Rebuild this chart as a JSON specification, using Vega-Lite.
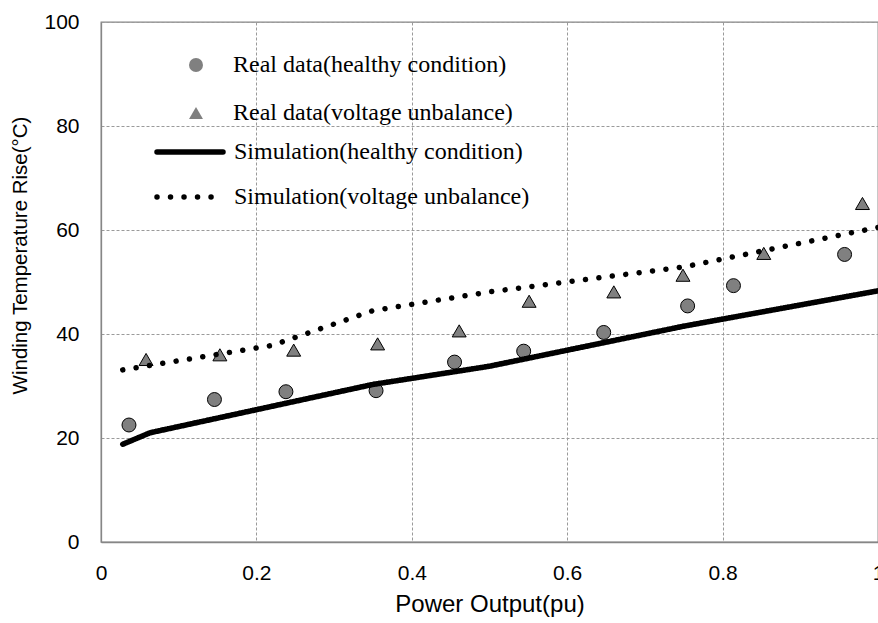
{
  "$schema": "https://vega.github.io/schema/vega-lite/v6.json",
  "width": 777,
  "height": 520,
  "autosize": {"type": "none"},
  "padding": {"left": 101, "top": 22, "right": 0, "bottom": 81},
  "background": "white",
  "config": {
    "view": {"stroke": "#868686", "strokeWidth": 1.3},
    "axis": {
      "grid": true,
      "gridDash": [3, 2],
      "gridColor": "#9a9a9a",
      "gridWidth": 1,
      "ticks": false,
      "tickSize": 0,
      "domainColor": "#868686",
      "domainWidth": 1.3,
      "labelFont": "Liberation Sans",
      "labelFontSize": 21,
      "labelColor": "#000000",
      "labelFlush": false,
      "labelOverlap": false,
      "titleFont": "Liberation Sans",
      "titleFontWeight": "normal",
      "titleColor": "#000000"
    }
  },
  "datasets": {
    "real": [
      {"series": "Real data(healthy condition)", "power": 0.036, "temp": 22.5},
      {"series": "Real data(healthy condition)", "power": 0.146, "temp": 27.4},
      {"series": "Real data(healthy condition)", "power": 0.238, "temp": 28.9},
      {"series": "Real data(healthy condition)", "power": 0.354, "temp": 29.1},
      {"series": "Real data(healthy condition)", "power": 0.455, "temp": 34.6},
      {"series": "Real data(healthy condition)", "power": 0.544, "temp": 36.7},
      {"series": "Real data(healthy condition)", "power": 0.647, "temp": 40.3},
      {"series": "Real data(healthy condition)", "power": 0.755, "temp": 45.4},
      {"series": "Real data(healthy condition)", "power": 0.814, "temp": 49.3},
      {"series": "Real data(healthy condition)", "power": 0.957, "temp": 55.3},
      {"series": "Real data(voltage unbalance)", "power": 0.058, "temp": 35.1},
      {"series": "Real data(voltage unbalance)", "power": 0.153, "temp": 36.0},
      {"series": "Real data(voltage unbalance)", "power": 0.248, "temp": 36.9},
      {"series": "Real data(voltage unbalance)", "power": 0.356, "temp": 38.1},
      {"series": "Real data(voltage unbalance)", "power": 0.461, "temp": 40.6},
      {"series": "Real data(voltage unbalance)", "power": 0.551, "temp": 46.3},
      {"series": "Real data(voltage unbalance)", "power": 0.660, "temp": 48.1},
      {"series": "Real data(voltage unbalance)", "power": 0.749, "temp": 51.3},
      {"series": "Real data(voltage unbalance)", "power": 0.853, "temp": 55.5},
      {"series": "Real data(voltage unbalance)", "power": 0.980, "temp": 65.1}
    ],
    "sim": [
      {"series": "Simulation(healthy condition)", "power": 0.028, "temp": 18.8},
      {"series": "Simulation(healthy condition)", "power": 0.063, "temp": 21.0},
      {"series": "Simulation(healthy condition)", "power": 0.35, "temp": 30.3},
      {"series": "Simulation(healthy condition)", "power": 0.5, "temp": 33.8},
      {"series": "Simulation(healthy condition)", "power": 0.75, "temp": 41.5},
      {"series": "Simulation(healthy condition)", "power": 1.0, "temp": 48.3},
      {"series": "Simulation(voltage unbalance)", "power": 0.028, "temp": 33.1},
      {"series": "Simulation(voltage unbalance)", "power": 0.22, "temp": 37.8},
      {"series": "Simulation(voltage unbalance)", "power": 0.35, "temp": 44.5},
      {"series": "Simulation(voltage unbalance)", "power": 0.5, "temp": 48.1},
      {"series": "Simulation(voltage unbalance)", "power": 0.75, "temp": 52.9},
      {"series": "Simulation(voltage unbalance)", "power": 1.0, "temp": 60.5}
    ]
  },
  "encoding": {
    "x": {
      "field": "power",
      "type": "quantitative",
      "scale": {"domain": [0, 1], "nice": false},
      "axis": {
        "title": "Power Output(pu)",
        "values": [0, 0.2, 0.4, 0.6, 0.8, 1],
        "format": "~g",
        "labelPadding": 20,
        "titleFontSize": 24,
        "titleX": 388.5,
        "titleY": 62,
        "titleAlign": "center",
        "titleBaseline": "middle"
      }
    },
    "y": {
      "field": "temp",
      "type": "quantitative",
      "scale": {"domain": [0, 100], "nice": false},
      "axis": {
        "title": "Winding Temperature Rise(°C)",
        "values": [0, 20, 40, 60, 80, 100],
        "labelPadding": 22,
        "titleFontSize": 20.5,
        "titleAngle": -90,
        "titleX": -81,
        "titleY": 233,
        "titleAlign": "center",
        "titleBaseline": "middle"
      }
    }
  },
  "layer": [
    {
      "data": {"name": "real"},
      "mark": {"type": "point", "filled": true, "fill": "#808080", "stroke": "#000000", "strokeWidth": 1, "opacity": 1, "size": 195},
      "encoding": {
        "shape": {
          "field": "series",
          "type": "nominal",
          "scale": {"domain": ["Real data(healthy condition)", "Real data(voltage unbalance)"], "range": ["circle", "triangle-up"]},
          "legend": {
            "orient": "none",
            "legendX": 83,
            "legendY": 31.5,
            "title": null,
            "padding": 0,
            "clipHeight": 23,
            "rowPadding": 23,
            "labelFont": "Liberation Serif",
            "labelFontSize": 24,
            "labelColor": "#000000",
            "labelOffset": 25,
            "labelLimit": 500,
            "symbolSize": 195,
            "symbolFillColor": "#808080",
            "symbolStrokeColor": "#000000",
            "symbolStrokeWidth": 1,
            "symbolOpacity": 1
          }
        }
      }
    },
    {
      "data": {"name": "sim"},
      "mark": {"type": "line", "color": "#000000", "strokeWidth": 5.5, "strokeCap": "round"},
      "encoding": {
        "strokeDash": {
          "field": "series",
          "type": "nominal",
          "scale": {"domain": ["Simulation(healthy condition)", "Simulation(voltage unbalance)"], "range": [[1, 0], [0.01, 13.5]]},
          "legend": {
            "orient": "none",
            "legendX": 53,
            "legendY": 118.5,
            "title": null,
            "padding": 0,
            "clipHeight": 23,
            "rowPadding": 20,
            "labelFont": "Liberation Serif",
            "labelFontSize": 24,
            "labelColor": "#000000",
            "labelOffset": 8,
            "labelLimit": 500,
            "symbolType": "stroke",
            "symbolSize": 4356,
            "symbolStrokeWidth": 5.5,
            "symbolStrokeColor": "#000000",
            "encode": {"symbols": {"update": {"strokeCap": {"value": "round"}}}}
          }
        }
      }
    }
  ]
}
